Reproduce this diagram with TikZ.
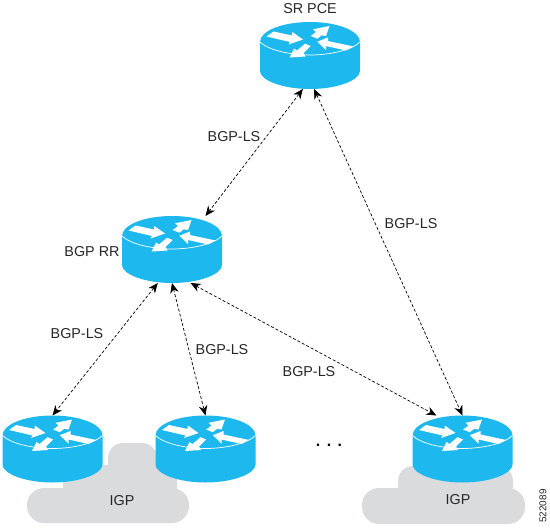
\documentclass[tikz,border=0pt]{standalone}
\usepackage{fontspec}
\setmainfont{Liberation Sans}
\usepackage{tikz}
\usetikzlibrary{arrows.meta}
\definecolor{routerblue}{HTML}{1DB9EE}
\definecolor{cloudgray}{HTML}{DADBDD}

\begin{document}
\begin{tikzpicture}[x=1bp, y=-1bp,
      hitbox/.style={rectangle, minimum width=100bp, minimum height=67bp, inner sep=0pt, outer sep=0pt},
      lbl/.style={font=\fontsize{14.4}{16}\selectfont, text=black!85, inner sep=0pt},
      arr/.style={{Stealth[length=10bp,width=8.5bp]}-{Stealth[length=10bp,width=8.5bp]}, dash pattern=on 3bp off 2bp, line width=0.7bp},
      blob/.style={fill=cloudgray, rounded corners=#1},
      pics/router/.style={code={
        \begin{scope}[shift={(0,-33.5)}]
          \fill[routerblue] (-50,20) .. controls (-50,9) and (-28,0) .. (0,0) .. controls (28,0) and (50,9) .. (50,20)
            -- (50,49) .. controls (50,58) and (28,67) .. (0,67) .. controls (-28,67) and (-50,58) .. (-50,49) -- cycle;
          \draw[white, line width=0.7bp] (-50,20) .. controls (-42,28) and (-20,33) .. (0,33) .. controls (20,33) and (42,28) .. (50,20);
          \fill[white] (-43.5,14.5) -- (-36.5,9.5) -- (-18,13.5) -- (-17.7,10) -- (-7,17.5) -- (-21.5,22.5) -- (-20,20) -- cycle;
          \fill[white] (19.5,4) -- (3,7.3) -- (6,10) -- (0.7,14) -- (7.3,16.7) -- (11.7,13.3) -- (16,14) -- cycle;
          \fill[white] (7.3,19.7) -- (18,15.5) -- (18,19) -- (43.5,24.5) -- (36,28.5) -- (16,24) -- (16,28) -- cycle;
          \fill[white] (-20.5,35.5) -- (-16,26.5) -- (-13,28.5) -- (-5,21.7) -- (0.7,24) -- (-6.5,31) -- (-4.5,34.5) -- cycle;
        \end{scope}
      }}]
      \useasboundingbox (0,0) rectangle (550,529);
      % clouds
      \fill[blob=17bp] (27,488) rectangle (189,523);
      \fill[blob=4bp] (63,465) rectangle (177,495);
      \fill[blob=15bp] (108,443) rectangle (157,480);
      \fill[blob=17bp] (362,488) rectangle (525,524);
      \fill[blob=15bp] (398,466) rectangle (513,500);
      % routers
      \node[hitbox] (pce) at (310,55.5) {};
      \node[hitbox] (rr) at (172,249.5) {};
      \node[hitbox] (edgeA) at (52.5,449) {};
      \node[hitbox] (edgeB) at (205.5,449) {};
      \node[hitbox] (edgeC) at (462.5,449) {};
      \pic at (pce) {router};
      \pic at (rr) {router};
      \pic at (edgeA) {router};
      \pic at (edgeB) {router};
      \pic at (edgeC) {router};
      % sessions
      \draw[arr] (pce.258)--(rr.45);
      \draw[arr] (pce.277)--(edgeC.90);
      \draw[arr] (rr.299)--(edgeC.128);
      \draw[arr] (rr.247)--(edgeA.90);
      \draw[arr] (rr.270)--(edgeB.90);
      % labels
      \node[lbl] (pcelbl) at (310,9) {SR PCE};
      \node[lbl] (rrlbl) at (92,252) {BGP RR};
      \node[lbl] (lsA) at (234,137) {BGP-LS};
      \node[lbl] (lsB) at (411,224) {BGP-LS};
      \node[lbl] (lsC) at (77,334) {BGP-LS};
      \node[lbl] (lsD) at (222,350) {BGP-LS};
      \node[lbl] (lsE) at (309,372) {BGP-LS};
      \node[lbl] (igpA) at (122,501) {IGP};
      \node[lbl] (igpC) at (458,500) {IGP};
      \node[lbl, font=\fontsize{16}{16}\selectfont\bfseries, text=black] (dots) at (329,445) {.\hspace{6.5bp}.\hspace{6.5bp}.};
      \node[lbl, font=\fontsize{10}{12}\selectfont, rotate=90] (figid) at (543,506) {522089};
    \end{tikzpicture}
\end{document}
